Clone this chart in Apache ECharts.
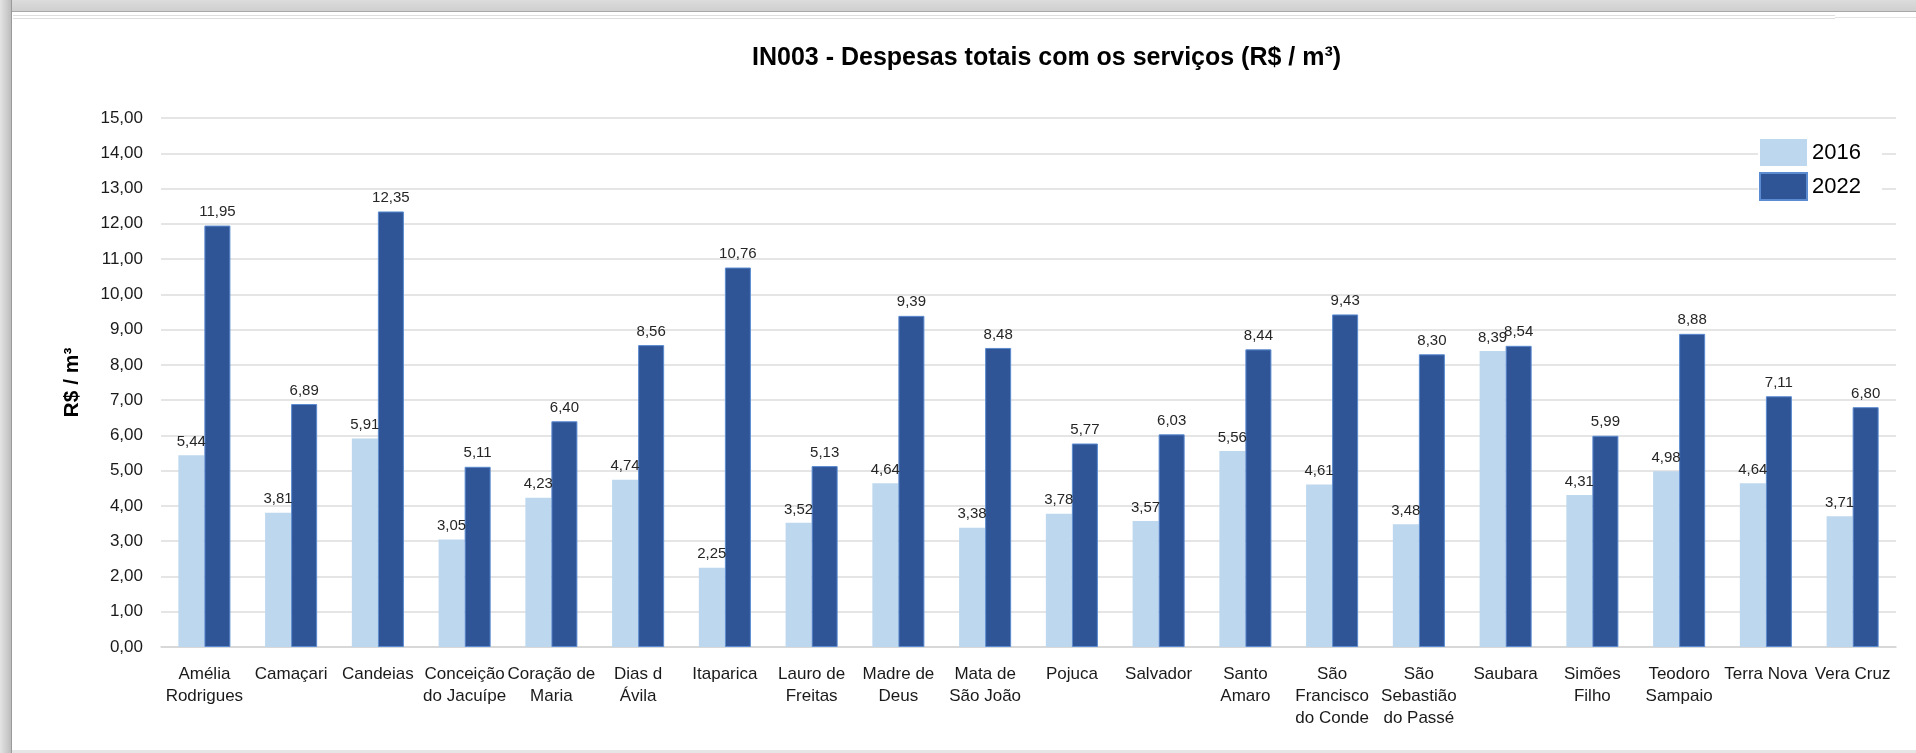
<!DOCTYPE html>
<html>
<head>
<meta charset="utf-8">
<script src="https://cdn.jsdelivr.net/npm/echarts@6/dist/echarts.min.js"></script>
<style>
html,body{margin:0;padding:0;width:1916px;height:753px;overflow:hidden;background:#d6d6d6;}
#bgTop{position:absolute;left:0;top:0;width:1916px;height:11px;background:linear-gradient(#dcdcdc,#cfcfcf);border-bottom:1px solid #a8a8a8;}
#bgLeft{position:absolute;left:0;top:0;width:11px;height:753px;background:linear-gradient(90deg,#e4e4e4,#bdbdbd);border-right:1px solid #9a9a9a;}
#white{position:absolute;left:12px;top:12px;width:1904px;height:738px;background:#fff;}
#dbl{position:absolute;left:13px;top:15px;width:1822px;height:2px;border-top:1px solid #dedede;border-bottom:1px solid #dedede;}
#sgl{position:absolute;left:1835px;top:17px;width:81px;height:0;border-top:1px solid #e4e4e4;}
#bottomBand{position:absolute;left:12px;top:750px;width:1904px;height:3px;background:#e6e6e6;}
#chart{position:absolute;left:0;top:0;width:1916px;height:753px;}
</style>
</head>
<body>
<div id="bgTop"></div>
<div id="bgLeft"></div>
<div id="white"></div>
<div id="dbl"></div>
<div id="sgl"></div>
<div id="bottomBand"></div>
<div id="chart"></div>
<script>
const categories = ['Amélia\nRodrigues', 'Camaçari', 'Candeias', 'Conceição\ndo Jacuípe', 'Coração de\nMaria', 'Dias d\nÁvila', 'Itaparica', 'Lauro de\nFreitas', 'Madre de\nDeus', 'Mata de\nSão João', 'Pojuca', 'Salvador', 'Santo\nAmaro', 'São\nFrancisco\ndo Conde', 'São\nSebastião\ndo Passé', 'Saubara', 'Simões\nFilho', 'Teodoro\nSampaio', 'Terra Nova', 'Vera Cruz'];
const values2016 = [5.44, 3.81, 5.91, 3.05, 4.23, 4.74, 2.25, 3.52, 4.64, 3.38, 3.78, 3.57, 5.56, 4.61, 3.48, 8.39, 4.31, 4.98, 4.64, 3.71];
const values2022 = [11.95, 6.89, 12.35, 5.11, 6.40, 8.56, 10.76, 5.13, 9.39, 8.48, 5.77, 6.03, 8.44, 9.43, 8.30, 8.54, 5.99, 8.88, 7.11, 6.80];
const seriesNames = ['2016', '2022'];
const yMin = 0, yMax = 15, yStep = 1;

const FONT = "'Liberation Sans', Arial, sans-serif";
const fmt = v => Number(v).toFixed(2).replace('.', ',');

const chart = echarts.init(document.getElementById('chart'), null, {renderer: 'canvas'});
const labelCfg = {
  show: true, position: 'top', distance: 6,
  fontFamily: FONT, fontSize: 15, color: '#262626',
  formatter: p => fmt(p.value)
};
chart.setOption({
  backgroundColor: 'transparent',
  animation: false,
  title: {
    text: 'IN003 - Despesas totais com os serviços (R$ / m³)',
    left: 747, top: 41,
    textStyle: {fontFamily: FONT, fontSize: 25, fontWeight: 'bold', color: '#000'}
  },
  legend: {
    orient: 'vertical',
    left: 1758, top: 133,
    padding: [6, 21, 6, 1],
    itemGap: 6,
    itemWidth: 47, itemHeight: 27,
    icon: 'rect',
    backgroundColor: '#fff',
    textStyle: {fontFamily: FONT, fontSize: 22, color: '#000'},
    data: seriesNames
  },
  grid: {left: 161, right: 20, top: 118, bottom: 106, containLabel: false},
  xAxis: {
    type: 'category',
    data: categories,
    axisLine: {show: true, lineStyle: {color: '#d4d4d4', width: 1.5}},
    axisTick: {show: false},
    axisLabel: {interval: 0, margin: 16, fontFamily: FONT, fontSize: 17, lineHeight: 22, color: '#1a1a1a'}
  },
  yAxis: {
    type: 'value',
    min: yMin, max: yMax, interval: yStep,
    name: 'R$ / m³',
    nameLocation: 'middle',
    nameGap: 78,
    nameTextStyle: {fontFamily: FONT, fontSize: 21, fontWeight: 'bold', color: '#000'},
    axisLine: {show: false},
    axisTick: {show: false},
    splitLine: {lineStyle: {color: '#dcdcdc', width: 1.5}},
    axisLabel: {margin: 18, fontFamily: FONT, fontSize: 17, color: '#1a1a1a', formatter: v => fmt(v)}
  },
  series: [
    {
      name: seriesNames[0], type: 'bar', data: values2016,
      barGap: '0%', barCategoryGap: '40%',
      itemStyle: {color: '#BDD7EE'},
      label: labelCfg
    },
    {
      name: seriesNames[1], type: 'bar', data: values2022,
      barGap: '0%', barCategoryGap: '40%',
      itemStyle: {color: '#2F5597', borderColor: '#5B8BD0', borderWidth: 1},
      label: labelCfg
    }
  ]
});
</script>
</body>
</html>
